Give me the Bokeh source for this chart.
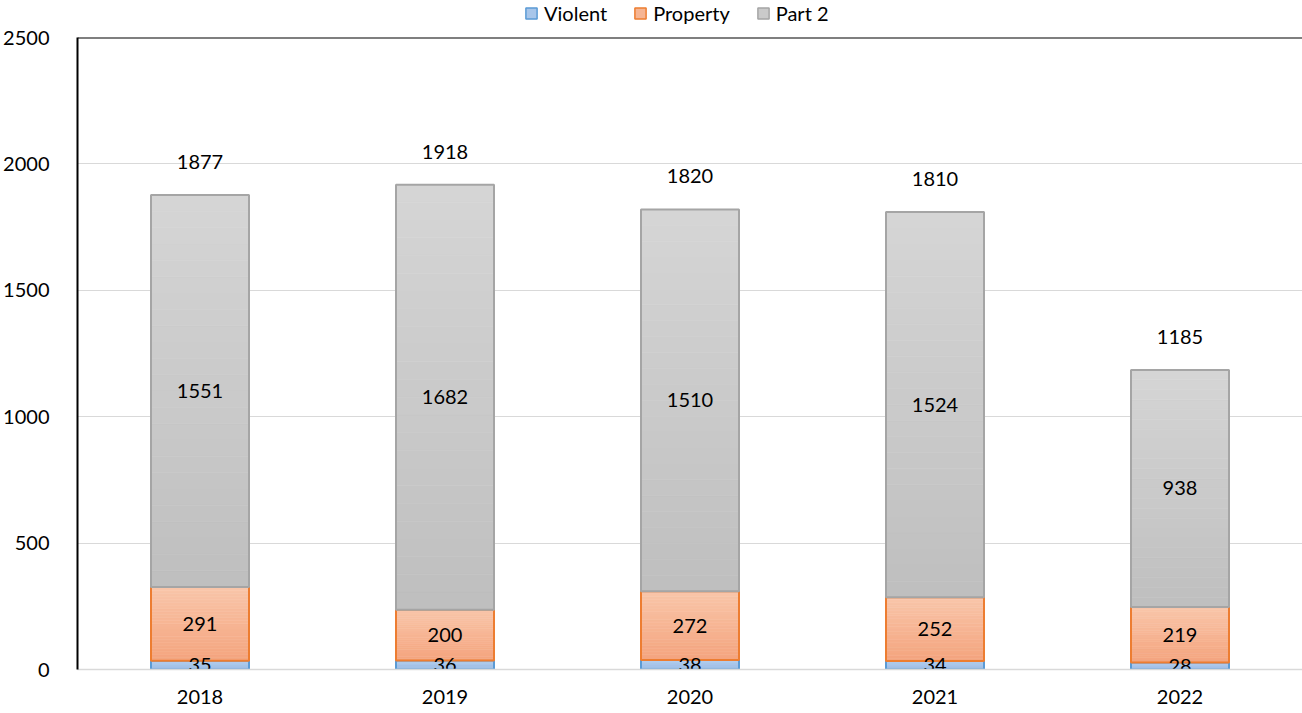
from bokeh.plotting import figure
from bokeh.layouts import column
from bokeh.models import ColumnDataSource, FactorRange, Legend, LegendItem, Span, Range1d, FixedTicker
from bokeh.core.properties import value
from bokeh.embed import file_html
from bokeh.resources import INLINE

years = ["2018", "2019", "2020", "2021", "2022"]
violent = [35, 36, 38, 34, 28]
prop = [291, 200, 272, 252, 219]
part2 = [1551, 1682, 1510, 1524, 938]
totals = [1877, 1918, 1820, 1810, 1185]
series_names = ["Violent", "Property", "Part 2"]

FONT = "Lato"
FS = "20px"
styles = {
    "Violent": dict(top="#b3cdee", bottom="#9bbde6", line="#5b9bd5", mid="#a8c6ea"),
    "Property": dict(top="#f9c6aa", bottom="#f4a47e", line="#ed7d31", mid="#f6b593"),
    "Part 2": dict(top="#d5d5d5", bottom="#bfbfbf", line="#a5a5a5", mid="#cacaca"),
}

def hex2rgb(h):
    h = h.lstrip("#")
    return tuple(int(h[i:i + 2], 16) for i in (0, 2, 4))

def mix(c1, c2, t):
    a, b = hex2rgb(c1), hex2rgb(c2)
    return "#%02x%02x%02x" % tuple(round(a[i] + (b[i] - a[i]) * t) for i in range(3))

# legend strip: its x range holds none of the years, so its bars are not drawn; only the legend shows
lg = figure(x_range=FactorRange(factors=["legend"]), y_range=Range1d(0, 2500),
            width=1294, height=25, output_backend="svg", toolbar_location=None,
            min_border=0)
lg.axis.visible = False
lg.grid.visible = False
lg.outline_line_color = None

p = figure(x_range=FactorRange(factors=years), y_range=Range1d(0, 2500),
           frame_width=1225, frame_height=632, output_backend="svg", toolbar_location=None,
           min_border_left=69, min_border_right=0, min_border_top=12, min_border_bottom=0)
p.outline_line_color = None
p.background_fill_color = "white"

BW = 0.4
NB = 24
data = {"Violent": violent, "Property": prop, "Part 2": part2}
base = [0] * len(years)
legend_items = []
for name in series_names:
    vals = data[name]
    st = styles[name]
    tops = [base[i] + vals[i] for i in range(len(years))]
    osrc = ColumnDataSource(dict(x=years, bottom=list(base), top=tops))
    lr = lg.vbar(x="x", bottom="bottom", top="top", width=BW, source=osrc,
                 fill_color=st["mid"], line_color=st["line"], line_width=1.5)
    legend_items.append(LegendItem(label=name, renderers=[lr]))
    bx, bb, bt, bc = [], [], [], []
    for i, y in enumerate(years):
        b0 = base[i]
        h = vals[i]
        for k in range(NB):
            bx.append(y)
            bb.append(b0 + h * k / NB)
            bt.append(b0 + h * (k + 1) / NB)
            bc.append(mix(st["bottom"], st["top"], (k + 0.5) / NB))
    src = ColumnDataSource(dict(x=bx, bottom=bb, top=bt, c=bc))
    p.vbar(x="x", bottom="bottom", top="top", width=BW, source=src,
           fill_color="c", line_color="c", line_width=0.6)
    p.vbar(x="x", bottom="bottom", top="top", width=BW, source=osrc,
           fill_color=None, line_color=st["line"], line_width=2)
    base = tops

base = [0] * len(years)
for name in series_names:
    vals = data[name]
    tsrc = ColumnDataSource(dict(x=years, y=[base[i] + vals[i] / 2 for i in range(len(years))],
                                 t=[str(v) for v in vals]))
    p.text(x="x", y="y", text="t", source=tsrc, text_align="center", text_baseline="middle",
           text_font=value(FONT), text_font_size=FS, text_color="#000000")
    base = [base[i] + vals[i] for i in range(len(years))]

tot_src = ColumnDataSource(dict(x=years, y=totals, t=[str(v) for v in totals]))
p.text(x="x", y="y", text="t", source=tot_src, text_align="center", text_baseline="middle",
       y_offset=-33, text_font=value(FONT), text_font_size=FS, text_color="#000000")

p.add_layout(Span(location=2500, dimension="width", line_color="black", line_width=2))

legend = Legend(items=legend_items, orientation="horizontal", location=(447, 0),
                label_text_font=FONT, label_text_font_size=FS, label_text_color="#000000",
                glyph_width=14, glyph_height=14, spacing=26, label_standoff=6,
                padding=0, margin=0, border_line_color=None, background_fill_alpha=0)
lg.add_layout(legend, "center")

p.xgrid.grid_line_color = None
p.ygrid.grid_line_color = "#d9d9d9"
p.ygrid.grid_line_width = 1
p.yaxis.ticker = FixedTicker(ticks=[0, 500, 1000, 1500, 2000, 2500])
p.yaxis.axis_line_color = "black"
p.yaxis.axis_line_width = 2
p.yaxis.major_tick_line_color = None
p.yaxis.minor_tick_line_color = None
p.yaxis.major_label_standoff = 22
p.xaxis.axis_line_color = "#d9d9d9"
p.xaxis.axis_line_width = 1.5
p.xaxis.major_tick_line_color = None
p.xaxis.minor_tick_line_color = None
p.xaxis.major_label_standoff = 14
for ax in (p.xaxis, p.yaxis):
    ax.major_label_text_font = FONT
    ax.major_label_text_font_size = FS
    ax.major_label_text_color = "#000000"

layout = column(lg, p, spacing=0)
open("out.html", "w").write(file_html(layout, INLINE))
